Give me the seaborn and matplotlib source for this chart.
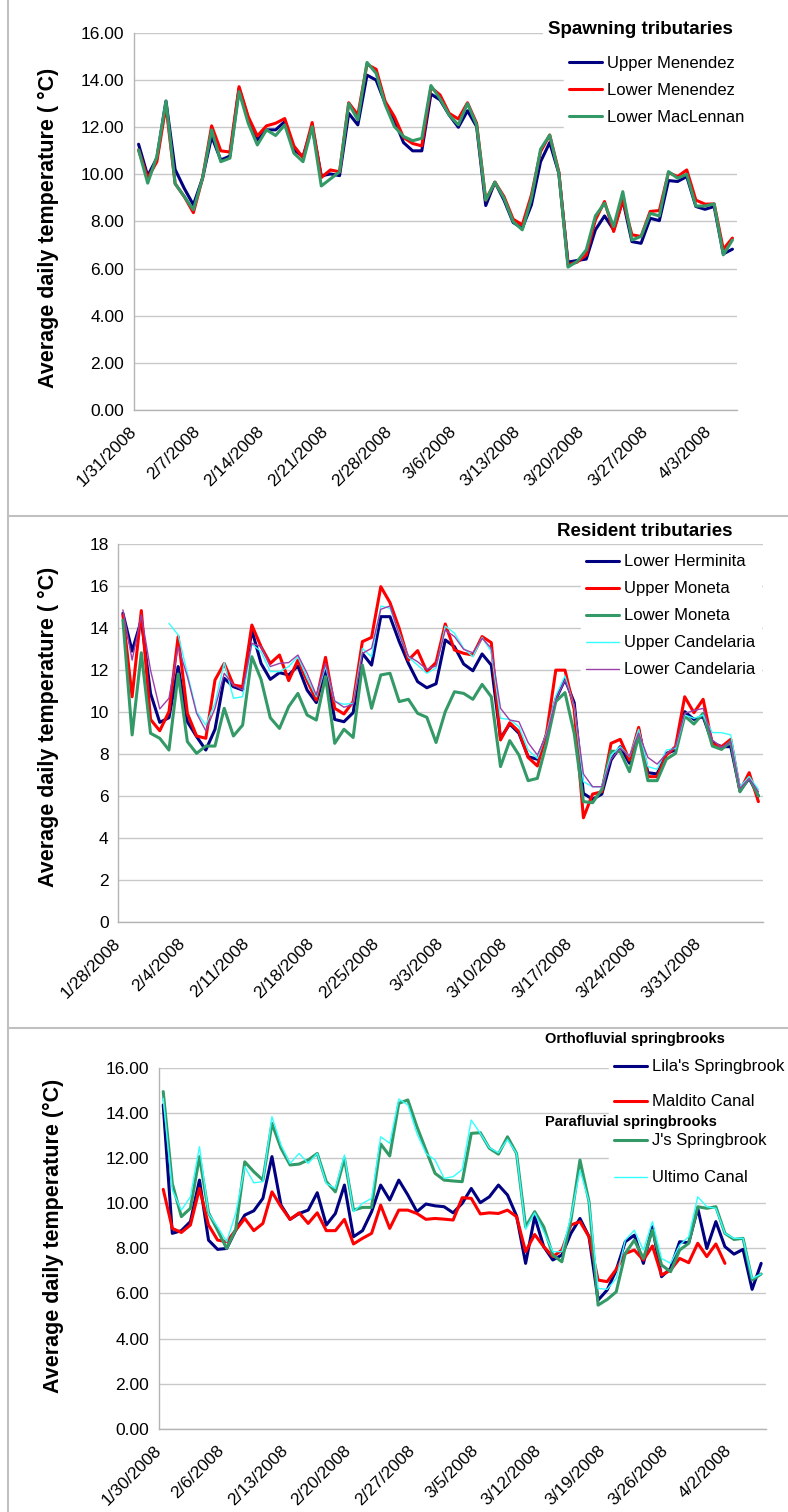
import numpy as np
import pandas as pd
import matplotlib
matplotlib.use("Agg")
import matplotlib.pyplot as plt
import matplotlib.dates as mdates
from matplotlib.lines import Line2D
import seaborn as sns

# ---------------------------------------------------------------- data
# Spawning tributaries, daily means from 1/31/2008
spawn_start = "2008-01-31"
upper_menendez = [11.27, 9.93, 10.68, 13.1, 10.2, 9.4, 8.7, 9.83, 11.6, 10.6, 10.77, 13.64, 12.37, 11.45,
                  11.88, 11.88, 12.23, 11.03, 10.75, 12.02, 9.93, 10.01, 9.94, 12.58, 12.09, 14.2, 13.99,
                  13.0, 12.3, 11.34, 10.99, 10.99, 13.4, 13.15, 12.51, 11.99, 12.69, 12.02, 8.67, 9.66,
                  8.9, 7.95, 7.71, 8.7, 10.53, 11.34, 10.04, 6.27, 6.34, 6.4, 7.64, 8.23, 7.64, 8.9, 7.14,
                  7.07, 8.13, 8.03, 9.73, 9.69, 9.9, 8.63, 8.51, 8.63, 6.62, 6.82]
lower_menendez = [11.03, 9.83, 10.53, 12.9, 9.6, 9.05, 8.37, 9.83, 12.05, 10.99, 10.94, 13.71, 12.44, 11.62,
                  12.05, 12.16, 12.36, 11.2, 10.7, 12.19, 9.86, 10.18, 10.1, 13.03, 12.51, 14.66, 14.45,
                  13.08, 12.44, 11.56, 11.3, 11.2, 13.68, 13.36, 12.58, 12.34, 13.03, 12.16, 8.9, 9.66,
                  9.05, 8.09, 7.85, 9.12, 10.96, 11.66, 10.1, 6.16, 6.27, 6.58, 8.06, 8.84, 7.57, 8.9, 7.43,
                  7.36, 8.42, 8.46, 10.07, 9.9, 10.18, 8.9, 8.73, 8.74, 6.82, 7.29]
lower_maclennan = [11.03, 9.62, 10.75, 13.1, 9.6, 9.05, 8.49, 9.83, 11.88, 10.53, 10.68, 13.5, 12.16, 11.24,
                   11.88, 11.64, 12.09, 10.89, 10.53, 12.02, 9.5, 9.8, 10.1, 13.0, 12.3, 14.74, 14.28,
                   12.94, 12.02, 11.6, 11.42, 11.52, 13.76, 13.2, 12.51, 12.09, 13.0, 12.09, 8.9, 9.66,
                   8.98, 7.99, 7.64, 8.98, 11.06, 11.66, 10.04, 6.06, 6.3, 6.79, 8.23, 8.77, 7.78, 9.26,
                   7.21, 7.36, 8.34, 8.23, 10.11, 9.83, 10.0, 8.65, 8.65, 8.74, 6.58, 7.21]

# Resident tributaries, daily means from 1/28/2008
resident_start = "2008-01-28"
lower_herminita = [14.71, 12.91, 14.39, 10.89, 9.51, 9.73, 12.17, 9.54, 8.83, 8.19, 9.18, 11.61, 11.21,
                   11.05, 13.91, 12.32, 11.56, 11.88, 11.77, 12.2, 11.05, 10.45, 12.04, 9.65, 9.54, 9.97,
                   12.8, 12.24, 14.55, 14.55, 13.36, 12.32, 11.45, 11.16, 11.35, 13.44, 13.12, 12.29,
                   11.97, 12.77, 12.24, 8.75, 9.43, 8.99, 7.87, 7.75, 8.91, 10.61, 11.56, 10.45, 6.12,
                   5.84, 6.09, 7.71, 8.35, 7.56, 9.18, 7.11, 7.05, 8.03, 8.19, 10.02, 9.65, 9.78, 8.54,
                   8.35, 8.35, 6.25, 6.84, 6.0]
upper_moneta = [14.63, 10.73, 14.84, 9.65, 9.11, 10.02, 13.6, 9.94, 8.86, 8.75, 11.53, 12.32, 11.29, 11.21,
                14.15, 13.12, 12.32, 12.72, 11.5, 12.48, 11.5, 10.58, 12.61, 10.18, 9.91, 10.5, 13.36,
                13.56, 15.98, 15.22, 13.99, 12.48, 12.93, 11.93, 12.36, 14.2, 12.96, 12.8, 12.72, 13.6,
                13.31, 8.67, 9.49, 9.07, 7.84, 7.43, 8.99, 12.0, 12.0, 10.13, 4.96, 6.09, 6.2, 8.51, 8.7,
                7.71, 9.27, 6.92, 6.92, 7.95, 8.35, 10.73, 9.97, 10.61, 8.48, 8.35, 8.7, 6.25, 7.11, 5.73]
lower_moneta = [14.39, 8.91, 12.83, 8.99, 8.75, 8.19, 11.82, 8.59, 8.03, 8.38, 8.38, 10.18, 8.86, 9.38,
                12.64, 11.56, 9.73, 9.22, 10.26, 10.89, 9.86, 9.62, 11.69, 8.51, 9.18, 8.79, 12.24, 10.18,
                11.77, 11.85, 10.5, 10.61, 9.94, 9.75, 8.55, 10.02, 10.97, 10.89, 10.61, 11.32, 10.73,
                7.4, 8.64, 7.95, 6.73, 6.84, 8.51, 10.5, 10.93, 8.99, 5.73, 5.68, 6.31, 8.14, 8.11, 7.16,
                8.86, 6.73, 6.73, 7.75, 8.03, 9.81, 9.43, 9.94, 8.38, 8.22, 8.59, 6.2, 6.89, 6.0]
upper_candelaria = [np.nan, np.nan, np.nan, np.nan, np.nan, 14.23, 13.68, 11.85, 10.02, 9.38, 10.42,
                    12.36, 10.66, 10.73, 13.25, 12.88, 11.93, 11.93, 12.17, 12.64, 11.61, 10.73, 12.17,
                    10.5, 10.37, 10.42, 13.04, 12.64, 15.06, 14.95, 13.76, 12.61, 12.24, 11.85, 12.1,
                    14.1, 13.76, 13.04, 12.64, 13.56, 12.88, 9.7, 9.65, 9.3, 8.19, 7.79, 8.99, 10.77,
                    11.72, 10.26, 6.68, 6.44, 6.44, 7.95, 8.35, 7.87, 9.18, 7.4, 7.27, 8.19, 8.27, 9.86,
                    9.7, 9.86, 9.02, 9.02, 8.91, 6.44, 6.92, 6.31]
lower_candelaria = [14.87, 12.48, 14.63, 12.0, 10.15, 10.66, 13.12, 11.69, 9.94, 9.11, 10.18, 11.85, 11.29,
                    11.05, 13.28, 13.12, 12.17, 12.32, 12.36, 12.72, 11.85, 10.81, 12.32, 10.53, 10.23,
                    10.37, 12.8, 13.04, 14.9, 15.06, 13.68, 12.67, 12.4, 12.04, 12.2, 13.91, 13.6, 12.99,
                    12.83, 13.52, 13.04, 10.18, 9.62, 9.54, 8.54, 7.95, 8.91, 10.58, 11.53, 10.34, 7.05,
                    6.44, 6.44, 7.75, 8.27, 7.9, 8.99, 7.84, 7.52, 8.0, 8.35, 9.94, 10.07, 10.18, 8.67,
                    8.32, 8.59, 6.36, 6.84, 6.2]

# Springbrooks, daily means from 1/30/2008
spring_start = "2008-01-30"
lilas_springbrook = [14.35, 8.66, 8.78, 9.18, 11.02, 8.36, 7.95, 7.99, 8.8, 9.47, 9.66, 10.21, 12.06, 9.91,
                     9.28, 9.54, 9.69, 10.46, 9.03, 9.54, 10.8, 8.51, 8.78, 9.62, 10.8, 10.14, 11.02, 10.36,
                     9.62, 9.96, 9.88, 9.84, 9.57, 9.99, 10.65, 10.02, 10.28, 10.8, 10.36, 9.43, 7.33, 9.4,
                     8.07, 7.48, 7.7, 8.66, 9.32, 8.51, 5.7, 6.15, 7.03, 8.29, 8.58, 7.33, 8.95, 6.74, 7.11,
                     8.29, 8.24, 9.77, 7.99, 9.18, 8.07, 7.74, 7.95, 6.18, 7.33]
maldito_canal = [10.61, 8.88, 8.7, 9.03, 10.65, 9.03, 8.36, 8.29, 8.8, 9.32, 8.78, 9.1, 10.5, 9.84, 9.28,
                 9.57, 9.1, 9.57, 8.78, 8.78, 9.28, 8.19, 8.44, 8.66, 9.91, 8.88, 9.69, 9.69, 9.54, 9.28,
                 9.32, 9.29, 9.25, 10.24, 10.21, 9.52, 9.57, 9.54, 9.69, 9.4, 7.85, 8.61, 8.07, 7.63, 7.92,
                 9.03, 9.18, 8.51, 6.59, 6.52, 7.06, 7.77, 7.92, 7.48, 8.1, 6.81, 7.03, 7.55, 7.36, 8.22,
                 7.63, 8.19, 7.33, np.nan, np.nan, np.nan, np.nan]
js_springbrook = [14.94, 10.87, 9.4, 9.77, 12.06, 9.57, 8.8, 7.99, 8.84, 11.83, 11.39, 11.02, 13.53, 12.43,
                  11.69, 11.73, 11.91, 12.2, 10.95, 10.5, 11.98, 9.69, 9.81, 9.81, 12.62, 12.09, 14.42,
                  14.57, 13.39, 12.35, 11.32, 11.02, 10.98, 10.95, 13.09, 13.12, 12.43, 12.17, 12.94, 12.2,
                  8.95, 9.62, 8.95, 7.7, 7.4, 9.25, 11.91, 10.06, 5.48, 5.73, 6.07, 7.77, 8.36, 7.55, 8.8,
                  7.26, 6.96, 7.92, 8.22, 9.84, 9.77, 9.84, 8.66, 8.39, 8.44, 6.59, 6.86]
ultimo_canal = [14.64, 10.58, 9.69, 10.28, 12.5, 9.54, 8.95, 8.29, 9.54, 11.61, 10.9, 10.95, 13.83, 12.57,
                11.76, 12.2, 11.76, 12.2, 10.87, 10.65, 12.13, 9.62, 9.99, 10.21, 12.94, 12.65, 14.61,
                14.35, 13.09, 12.2, 11.91, 11.1, 11.17, 11.49, 13.68, 13.09, 12.45, 12.23, 12.82, 12.2,
                8.84, 9.57, 8.73, 7.85, 7.85, 9.4, 11.46, 10.06, 6.22, 6.18, 6.66, 8.36, 8.8, 7.92, 9.18,
                7.55, 7.33, 8.14, 8.51, 10.28, 9.84, 9.77, 8.66, 8.44, 8.44, 6.66, 6.86]

# ---------------------------------------------------------------- style
sns.set_theme(style="white")
plt.rcParams["font.family"] = ["Liberation Sans", "DejaVu Sans"]
plt.rcParams["text.color"] = "black"

NAVY, RED, GREEN, CYAN, PURPLE = "#000080", "#ff0000", "#339966", "#33ffff", "#9c3fa8"
GRID, AXIS, BORDER = "#c8c8c8", "#b4b4b4", "#c0c0c0"
THICK, THIN = 2.2, 1.0

W, H, DPI = 788, 1512, 100
fig = plt.figure(figsize=(W / DPI, H / DPI), dpi=DPI)


def px_rect(left, top, right, bottom):
    return [left / W, 1 - bottom / H, (right - left) / W, (bottom - top) / H]


def fx(x):
    return x / W


def fy(y):
    return 1 - y / H


def draw_panel(rect, start, series, ymax, ystep, yfmt, n_days, ylabel, ylabel_xy):
    ax = fig.add_axes(px_rect(*rect))
    t0 = pd.Timestamp(start)
    handles = []
    for name, vals, color, lw in series:
        dates = pd.date_range(t0, periods=len(vals), freq="D") + pd.Timedelta(hours=12)
        df = pd.DataFrame({"date": dates, "temp": vals})
        sns.lineplot(data=df, x="date", y="temp", ax=ax, color=color, linewidth=lw,
                     errorbar=None, legend=False)
        handles.append(Line2D([], [], color=color, lw=lw, label=name))
    t1 = t0 + pd.Timedelta(days=n_days)
    ax.set_xlim(mdates.date2num(t0), mdates.date2num(t1))
    ax.set_ylim(0, ymax)
    ticks = pd.date_range(t0, t1, freq="7D")
    ax.set_xticks(mdates.date2num(ticks))
    labels = [f"{d.month}/{d.day}/{d.year}" for d in ticks]
    if ticks[-1] == t1:
        labels[-1] = ""
    ax.set_xticklabels(labels, rotation=45, ha="right", va="center", rotation_mode="anchor")
    yt = np.arange(0, ymax + 0.001, ystep)
    ax.set_yticks(yt)
    ax.set_yticklabels([yfmt.format(v) for v in yt])
    ax.set_xlabel("")
    ax.set_ylabel("")
    ax.yaxis.grid(True, color=GRID, lw=1.0)
    ax.xaxis.grid(False)
    ax.set_axisbelow(True)
    for s in ("top", "right"):
        ax.spines[s].set_visible(False)
    for s in ("left", "bottom"):
        ax.spines[s].set_color(AXIS)
        ax.spines[s].set_linewidth(1.0)
    ax.tick_params(axis="y", length=4, width=1, color=AXIS, pad=3, labelsize=12.5, labelcolor="black")
    ax.tick_params(axis="x", length=5, width=1, color=AXIS, pad=9, labelsize=12.5, labelcolor="black")
    fig.text(fx(ylabel_xy[0]), fy(ylabel_xy[1]), ylabel, rotation=90, ha="center", va="center",
             fontsize=15.5, fontweight="bold")
    return ax, handles


def place_legend(ax, handles, left, top, spacing):
    leg = ax.legend(handles=handles, loc="upper left",
                    bbox_to_anchor=(fx(left), fy(top)), bbox_transform=fig.transFigure,
                    frameon=True, facecolor="white", edgecolor="white", framealpha=1,
                    fancybox=False, borderpad=0.3, borderaxespad=0, handlelength=2.0,
                    handletextpad=0.3, labelspacing=spacing, fontsize=12)
    leg.set_zorder(6)
    return leg


# ---------------------------------------------------------------- panel 1
ax1, h1 = draw_panel((134, 32.7, 737, 410), spawn_start,
                     [("Upper Menendez", upper_menendez, NAVY, THICK),
                      ("Lower Menendez", lower_menendez, RED, THICK),
                      ("Lower MacLennan", lower_maclennan, GREEN, THICK)],
                     16, 2, "{:.2f}", 66, "Average daily temperature ( °C)", (48, 228))
place_legend(ax1, h1, 564, 51, 0.71)
fig.text(fx(640), fy(30), "Spawning tributaries", ha="center", va="center", fontsize=13.5,
         fontweight="bold", zorder=7,
         bbox=dict(facecolor="white", edgecolor="none", pad=3))

# ---------------------------------------------------------------- panel 2
ax2, h2 = draw_panel((118.3, 544.3, 763, 921.8), resident_start,
                     [("Lower Herminita", lower_herminita, NAVY, THICK),
                      ("Upper Moneta", upper_moneta, RED, THICK),
                      ("Lower Moneta", lower_moneta, GREEN, THICK),
                      ("Upper Candelaria", upper_candelaria, CYAN, THIN),
                      ("Lower Candelaria", lower_candelaria, PURPLE, THIN)],
                     18, 2, "{:.0f}", 70, "Average daily temperature ( °C)", (48, 727))
place_legend(ax2, h2, 581, 549.5, 0.72)
fig.text(fx(644.5), fy(531.7), "Resident tributaries", ha="center", va="center", fontsize=13.5,
         fontweight="bold")

# ---------------------------------------------------------------- panel 3
ax3, h3 = draw_panel((158.7, 1067.7, 765.7, 1428.8), spring_start,
                     [("Lila's Springbrook", lilas_springbrook, NAVY, THICK),
                      ("Maldito Canal", maldito_canal, RED, THICK),
                      ("J's Springbrook", js_springbrook, GREEN, THICK),
                      ("Ultimo Canal", ultimo_canal, CYAN, THIN)],
                     16, 2, "{:.2f}", 67, "Average daily temperature (°C)", (53, 1236))
leg_a = place_legend(ax3, h3[:2], 609, 1054.5, 1.2)
ax3.add_artist(leg_a)
place_legend(ax3, h3[2:], 609, 1128.5, 1.32)
fig.text(fx(634.5), fy(1039), "Orthofluvial springbrooks", ha="center", va="center", fontsize=10.5,
         fontweight="bold")
fig.text(fx(631), fy(1121.7), "Parafluvial springbrooks", ha="center", va="center", fontsize=10.5,
         fontweight="bold", zorder=7)

# ---------------------------------------------------------------- panel frames
for y in (516, 1028):
    fig.add_artist(Line2D([fx(8), 1.0], [fy(y), fy(y)], color=BORDER, lw=1.5))
fig.add_artist(Line2D([fx(8), fx(8)], [0, 1], color=BORDER, lw=1.5))

fig.savefig("out.png", dpi=DPI, facecolor="white")
